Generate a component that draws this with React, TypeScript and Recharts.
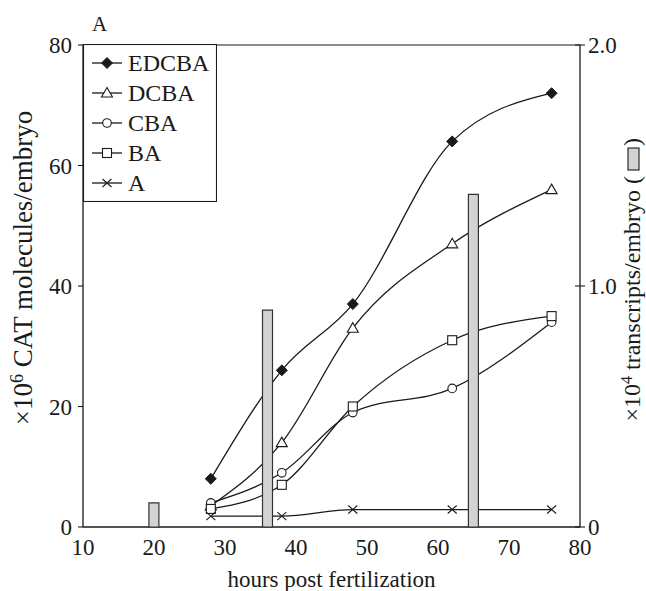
import { ComposedChart, Line, Bar, XAxis, YAxis, ReferenceLine, Legend, Label } from 'recharts'

const hours = [28, 38, 48, 62, 76]
const edcba = [8, 26, 37, 64, 72]
const dcba = [3.5, 14, 33, 47, 56]
const cba = [4, 9, 19, 23, 34]
const ba = [3, 7, 20, 31, 35]
const aOnly = [1.8, 1.8, 2.9, 2.9, 2.9]

const barHours = [20, 36, 65]
const transcripts = [0.1, 0.9, 1.38]

const xTicks = [10, 20, 30, 40, 50, 60, 70, 80]
const leftTicks = [0, 20, 40, 60, 80]
const rightTicks = [0, 1, 2]

const series = [
  { key: 'EDCBA', kind: 'diamond', values: edcba },
  { key: 'DCBA', kind: 'triangle', values: dcba },
  { key: 'CBA', kind: 'circle', values: cba },
  { key: 'BA', kind: 'square', values: ba },
  { key: 'A', kind: 'cross', values: aOnly },
]

const allHours = Array.from(new Set([...hours, ...barHours])).sort((a, b) => a - b)
const data = allHours.map((h) => {
  const i = hours.indexOf(h)
  const j = barHours.indexOf(h)
  const row: Record<string, number | null> = { hours: h, transcripts: j >= 0 ? transcripts[j] : null }
  series.forEach((s) => {
    row[s.key] = i >= 0 ? s.values[i] : null
  })
  return row
})

const FONT = '"Liberation Serif", "Times New Roman", serif'
const INK = '#1a1a1a'

function Marker({ cx, cy, kind }: { cx: number; cy: number; kind: string }) {
  if (cx == null || cy == null) return null
  if (kind === 'diamond')
    return <path d={`M${cx},${cy - 5.5}L${cx + 5.5},${cy}L${cx},${cy + 5.5}L${cx - 5.5},${cy}Z`} fill={INK} stroke={INK} />
  if (kind === 'triangle')
    return <path d={`M${cx},${cy - 5.5}L${cx + 5.5},${cy + 4}L${cx - 5.5},${cy + 4}Z`} fill="#fff" stroke={INK} strokeWidth={1.1} />
  if (kind === 'circle') return <circle cx={cx} cy={cy} r={4.3} fill="#fff" stroke={INK} strokeWidth={1.1} />
  if (kind === 'square')
    return <rect x={cx - 4.5} y={cy - 4.5} width={9} height={9} fill="#fff" stroke={INK} strokeWidth={1.1} />
  return (
    <path d={`M${cx - 4.5},${cy - 4}L${cx + 4.5},${cy + 4}M${cx - 4.5},${cy + 4}L${cx + 4.5},${cy - 4}`} stroke={INK} strokeWidth={1.1} />
  )
}

function LegendBox() {
  return (
    <svg width={134} height={158} style={{ display: 'block' }}>
      <rect x={0.5} y={0.5} width={133} height={157} fill="#fff" stroke={INK} strokeWidth={1.1} />
      {series.map((s, i) => {
        const y = 19 + i * 30
        return (
          <g key={s.key}>
            <line x1={9} x2={39} y1={y} y2={y} stroke={INK} strokeWidth={1.3} />
            <Marker cx={24} cy={y} kind={s.kind} />
            <text x={45} y={y + 8} fontFamily={FONT} fontSize={24} fill={INK}>
              {s.key}
            </text>
          </g>
        )
      })}
    </svg>
  )
}

function RightTick({ x, y, payload }: any) {
  const v = payload.value
  return (
    <g>
      <line x1={x - 5} x2={x + 5} y1={y} y2={y} stroke={INK} strokeWidth={1.1} />
      <text x={x + 8} y={y} dy="0.35em" fontFamily={FONT} fontSize={23} fill={INK}>
        {v === 0 ? '0' : v.toFixed(1)}
      </text>
    </g>
  )
}

function LeftTitle() {
  const cx = 32
  const cy = 268
  return (
    <text x={cx} y={cy} transform={`rotate(-90, ${cx}, ${cy})`} textAnchor="middle" fontFamily={FONT} fontSize={27} fill={INK}>
      ×10<tspan dy={-9} fontSize={18}>6</tspan>
      <tspan dy={9}> CAT molecules/embryo</tspan>
    </text>
  )
}

function RightTitle() {
  const cx = 640
  const cy = 300
  // title reads bottom-to-top; the gap before ")" holds the bar symbol
  return (
    <g transform={`rotate(-90, ${cx}, ${cy})`}>
      <text x={cx + 162} y={cy} textAnchor="end" fontFamily={FONT} fontSize={24} fill={INK}>
        ×10<tspan dy={-8} fontSize={16}>4</tspan>
        <tspan dy={8}>{' transcripts/embryo  ('}</tspan>
        <tspan dx={30}>{')'}</tspan>
      </text>
      <rect x={cx + 130} y={cy - 12} width={22} height={11} fill="#d3d3d3" stroke={INK} strokeWidth={1.1} />
    </g>
  )
}

export default function App() {
  return (
    <div style={{ position: 'absolute', left: 0, top: 0, width: 646, height: 591, background: '#fff' }}>
      <div style={{ position: 'absolute', left: 92, top: 14, fontFamily: FONT, fontSize: 21, lineHeight: 1, color: INK }}>A</div>
      <ComposedChart width={646} height={591} data={data} margin={{ top: 45, right: 16, bottom: 24, left: 23 }}>
        <XAxis
          dataKey="hours"
          type="number"
          domain={[10, 80]}
          ticks={xTicks}
          tickSize={0}
          tickMargin={12}
          tickLine={false}
          axisLine={{ stroke: INK, strokeWidth: 1.3 }}
          tick={{ fill: INK, fontSize: 23, fontFamily: FONT }}
          height={40}
        >
          <Label value="hours post fertilization" position="bottom" offset={4} fill={INK} fontSize={23} fontFamily={FONT} />
        </XAxis>
        <YAxis
          yAxisId="left"
          domain={[0, 80]}
          ticks={leftTicks}
          width={60}
          tickSize={5}
          tickMargin={6}
          tickLine={{ stroke: INK, strokeWidth: 1.1 }}
          axisLine={{ stroke: INK, strokeWidth: 1.3 }}
          tick={{ fill: INK, fontSize: 23, fontFamily: FONT }}
        >
          <Label content={<LeftTitle />} />
        </YAxis>
        <YAxis
          yAxisId="right"
          orientation="right"
          domain={[0, 2]}
          ticks={rightTicks}
          width={50}
          tickSize={0}
          tickMargin={0}
          tickLine={false}
          axisLine={{ stroke: INK, strokeWidth: 1.3 }}
          tick={<RightTick />}
        >
          <Label content={<RightTitle />} />
        </YAxis>
        <ReferenceLine yAxisId="left" y={80} stroke={INK} strokeWidth={1.1} />
        {series.map((s) => (
          <Line
            key={s.key}
            yAxisId="left"
            dataKey={s.key}
            type="monotone"
            stroke={INK}
            strokeWidth={1.3}
            connectNulls
            isAnimationActive={false}
            dot={(p: any) => <Marker key={`${s.key}-${p.index}`} cx={p.cx} cy={p.cy} kind={s.kind} />}
            activeDot={false}
          />
        ))}
        <Bar
          yAxisId="right"
          dataKey="transcripts"
          barSize={10}
          fill="#d3d3d3"
          stroke="#333"
          strokeWidth={1.2}
          isAnimationActive={false}
          zIndex={500}
        />
        <Legend
          content={() => <LegendBox />}
          layout="vertical"
          align="center"
          verticalAlign="middle"
          wrapperStyle={{ position: 'absolute', left: 83, top: 44, width: 134, height: 158 }}
        />
      </ComposedChart>
    </div>
  )
}
